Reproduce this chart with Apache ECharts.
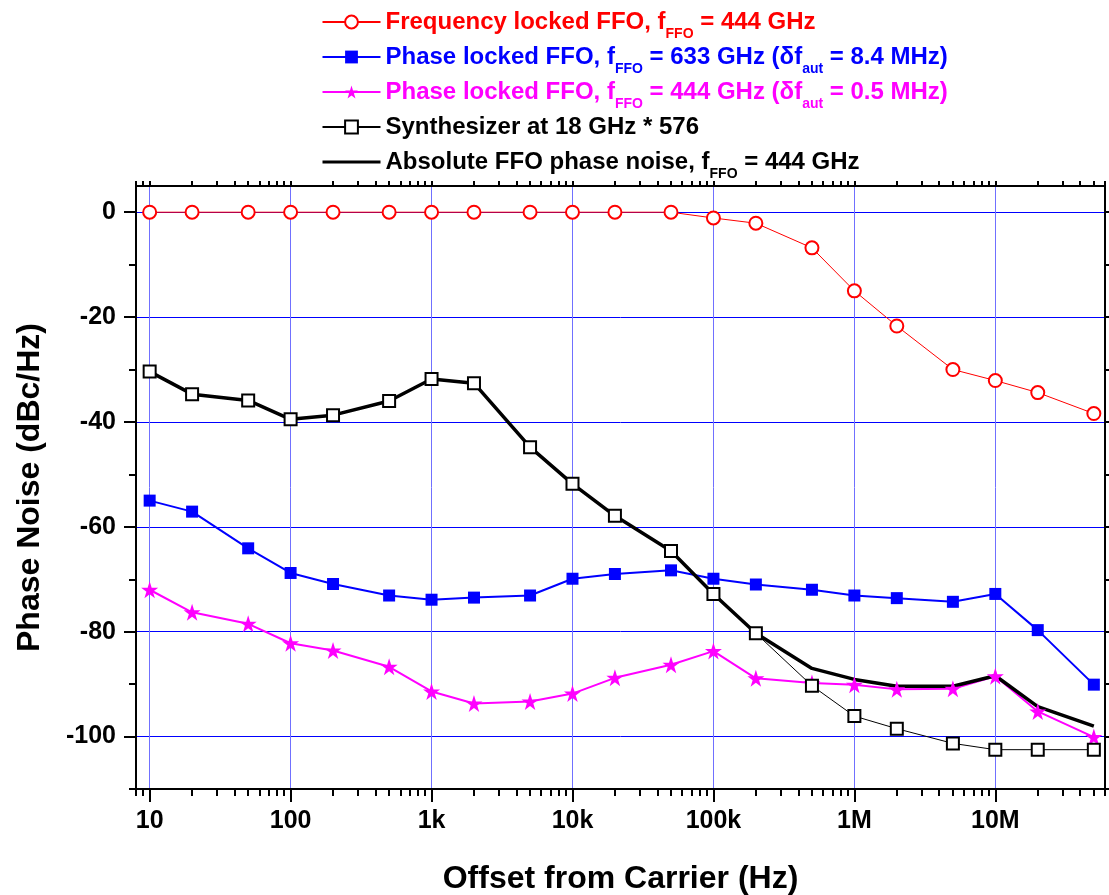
<!DOCTYPE html>
<html>
<head>
<meta charset="utf-8">
<script src="https://cdn.jsdelivr.net/npm/echarts@6/dist/echarts.min.js"></script>
<style>
  html, body { margin: 0; padding: 0; background: #fff; }
  #chart { width: 1109px; height: 895px; }
</style>
</head>
<body>
<div id="chart"></div>
<script>
// offset frequencies (Hz)
var offsets = [10, 20, 50, 100, 200, 500, 1e3, 2e3, 5e3, 1e4, 2e4, 5e4, 1e5, 2e5, 5e5, 1e6, 2e6, 5e6, 1e7, 2e7, 5e7];

// phase noise values (dBc/Hz)
var freqLocked = [0, 0, 0, 0, 0, 0, 0, 0, 0, 0, 0, 0, -1.1, -2.1, -6.8, -15.0, -21.7, -30.0, -32.1, -34.4, -38.4];
var phase633 = [-55.0, -57.1, -64.1, -68.8, -70.9, -73.1, -73.9, -73.5, -73.1, -69.9, -69.0, -68.3, -69.9, -71.0, -72.0, -73.1, -73.6, -74.3, -72.8, -79.7, -90.1];
var phase444 = [-72.0, -76.3, -78.5, -82.2, -83.6, -86.7, -91.4, -93.7, -93.3, -91.8, -88.8, -86.3, -83.7, -88.9, -89.8, -90.1, -91.0, -90.9, -88.5, -95.2, -100.1];
var synth = [-30.4, -34.7, -35.9, -39.5, -38.7, -36.0, -31.8, -32.6, -44.8, -51.8, -57.9, -64.6, -72.8, -80.3, -90.3, -96.1, -98.5, -101.3, -102.5, -102.5, -102.5];
var absolute = [-30.4, -34.7, -35.9, -39.5, -38.7, -36.0, -31.8, -32.6, -44.8, -51.8, -57.9, -64.6, -72.8, -80.3, -87.0, -89.1, -90.4, -90.4, -88.4, -94.3, -98.0];

// axis ticks
var decadeTicks = [10, 100, 1e3, 1e4, 1e5, 1e6, 1e7];
var decadeLabels = ['10', '100', '1k', '10k', '100k', '1M', '10M'];
var yMajor = [-100, -80, -60, -40, -20, 0];
var yMinor = [-110, -90, -70, -50, -30, -10];

var minorTicks = [8, 9];
decadeTicks.forEach(function (d) {
    for (var m = 2; m <= 9; m++) {
        if (d * m <= 6e7) minorTicks.push(d * m);
    }
});

var names = [
    'Frequency locked FFO, fFFO = 444 GHz',
    'Phase locked FFO, fFFO = 633 GHz (δfaut = 8.4 MHz)',
    'Phase locked FFO, fFFO = 444 GHz (δfaut = 0.5 MHz)',
    'Synthesizer at 18 GHz * 576',
    'Absolute FFO phase noise, fFFO = 444 GHz'
];
var richNames = [
    'Frequency locked FFO, f{sub|FFO} = 444 GHz',
    'Phase locked FFO, f{sub|FFO} = 633 GHz (δf{sub|aut} = 8.4 MHz)',
    'Phase locked FFO, f{sub|FFO} = 444 GHz (δf{sub|aut} = 0.5 MHz)',
    'Synthesizer at 18 GHz * 576{sub| }',
    'Absolute FFO phase noise, f{sub|FFO} = 444 GHz'
];
var colors = ['#ff0000', '#0000ff', '#ff00ff', '#000000', '#000000'];

var FONT = '"Liberation Sans", Arial, sans-serif';
var STAR = 'path://M0,-10 L2.245,-3.09 L9.51,-3.09 L3.633,1.18 L5.88,8.09 L0,3.82 L-5.88,8.09 L-3.633,1.18 L-9.51,-3.09 L-2.245,-3.09 Z';

function pairs(ys) {
    return offsets.map(function (x, i) { return [x, ys[i]]; });
}

function decadeLabel(v) {
    for (var i = 0; i < decadeTicks.length; i++) {
        if (Math.abs(Math.log10(decadeTicks[i]) - Math.log10(v)) < 1e-6) return decadeLabels[i];
    }
    return '';
}

var chart = echarts.init(document.getElementById('chart'));

var axisLine = { show: true, onZero: false, lineStyle: { color: '#000', width: 2 } };
var tickStyle = { color: '#000', width: 2 };

var option = {
    animation: false,
    backgroundColor: '#fff',
    grid: { left: 136, top: 186, right: 4, bottom: 106, containLabel: false, outerBoundsMode: 'none' },
    legend: {
        orient: 'vertical',
        left: 321,
        top: 3,
        padding: 0,
        itemWidth: 58,
        itemHeight: 16,
        itemGap: -3,
        selectedMode: false,
        data: names.map(function (n, i) {
            var item = { name: n, textStyle: { color: colors[i] } };
            if (i === 4) {
                item.itemStyle = { opacity: 0 };
                item.lineStyle = { width: 3 };
            }
            return item;
        }),
        formatter: function (name) {
            return richNames[names.indexOf(name)];
        },
        textStyle: {
            fontFamily: FONT,
            fontSize: 24,
            lineHeight: 24,
            fontWeight: 'bold',
            rich: {
                sub: { fontFamily: FONT, fontSize: 14, lineHeight: 14, fontWeight: 'bold', padding: [24, 0, 0, 0] }
            }
        }
    },
    xAxis: [
        {
            type: 'log', logBase: 10, min: 8, max: 6e7, position: 'bottom',
            axisLine: axisLine,
            axisTick: { show: true, length: 13, lineStyle: tickStyle, customValues: decadeTicks },
            axisLabel: {
                customValues: decadeTicks, formatter: decadeLabel, margin: 20,
                fontFamily: FONT, fontSize: 25, fontWeight: 'bold', color: '#000'
            },
            splitLine: { show: true, lineStyle: { color: '#7070ff', width: 1 } },
            name: 'Offset from Carrier (Hz)', nameLocation: 'middle', nameGap: 74,
            nameTextStyle: { fontFamily: FONT, fontSize: 32, fontWeight: 'bold', color: '#000' }
        },
        {
            type: 'log', logBase: 10, min: 8, max: 6e7, position: 'bottom',
            axisLine: axisLine,
            axisTick: { show: true, length: 7, lineStyle: tickStyle, customValues: minorTicks },
            axisLabel: { show: false },
            splitLine: { show: false }
        },
        {
            type: 'log', logBase: 10, min: 8, max: 6e7, position: 'top',
            axisLine: axisLine,
            axisTick: { show: true, length: 5, lineStyle: tickStyle, customValues: decadeTicks.concat(minorTicks) },
            axisLabel: { show: false },
            splitLine: { show: false }
        }
    ],
    yAxis: [
        {
            type: 'value', min: -110, max: 5, position: 'left',
            axisLine: axisLine,
            axisTick: { show: true, length: 12, lineStyle: tickStyle, customValues: yMajor },
            axisLabel: {
                customValues: yMajor, margin: 20,
                fontFamily: FONT, fontSize: 25, fontWeight: 'bold', color: '#000'
            },
            splitLine: { show: true, lineStyle: { color: '#0000ff', width: 1 } },
            name: 'Phase Noise (dBc/Hz)', nameLocation: 'middle', nameGap: 90, nameRotate: 90,
            nameTextStyle: { fontFamily: FONT, fontSize: 32, fontWeight: 'bold', color: '#000' }
        },
        {
            type: 'value', min: -110, max: 5, position: 'left',
            axisLine: axisLine,
            axisTick: { show: true, length: 7, lineStyle: tickStyle, customValues: yMinor },
            axisLabel: { show: false },
            splitLine: { show: false }
        },
        {
            type: 'value', min: -110, max: 5, position: 'right',
            axisLine: axisLine,
            axisTick: { show: true, length: 6, lineStyle: tickStyle, customValues: yMajor.concat(yMinor) },
            axisLabel: { show: false },
            splitLine: { show: false }
        }
    ],
    series: [
        {
            name: names[0], type: 'line', data: pairs(freqLocked),
            color: colors[0], symbol: 'emptyCircle', symbolSize: 13,
            lineStyle: { width: 1 }, itemStyle: { borderWidth: 2 }
        },
        {
            name: names[1], type: 'line', data: pairs(phase633),
            color: colors[1], symbol: 'rect', symbolSize: 12,
            lineStyle: { width: 2 }
        },
        {
            name: names[2], type: 'line', data: pairs(phase444),
            color: colors[2], symbol: STAR, symbolSize: 17,
            lineStyle: { width: 2 }
        },
        {
            name: names[4], type: 'line', data: pairs(absolute),
            color: colors[4], symbol: 'none',
            lineStyle: { width: 3.5 }
        },
        {
            name: names[3], type: 'line', data: pairs(synth),
            color: colors[3], symbol: 'emptyRect', symbolSize: 12,
            lineStyle: { width: 1 }, itemStyle: { borderWidth: 2 }
        }
    ]
};

chart.setOption(option);
</script>
</body>
</html>
